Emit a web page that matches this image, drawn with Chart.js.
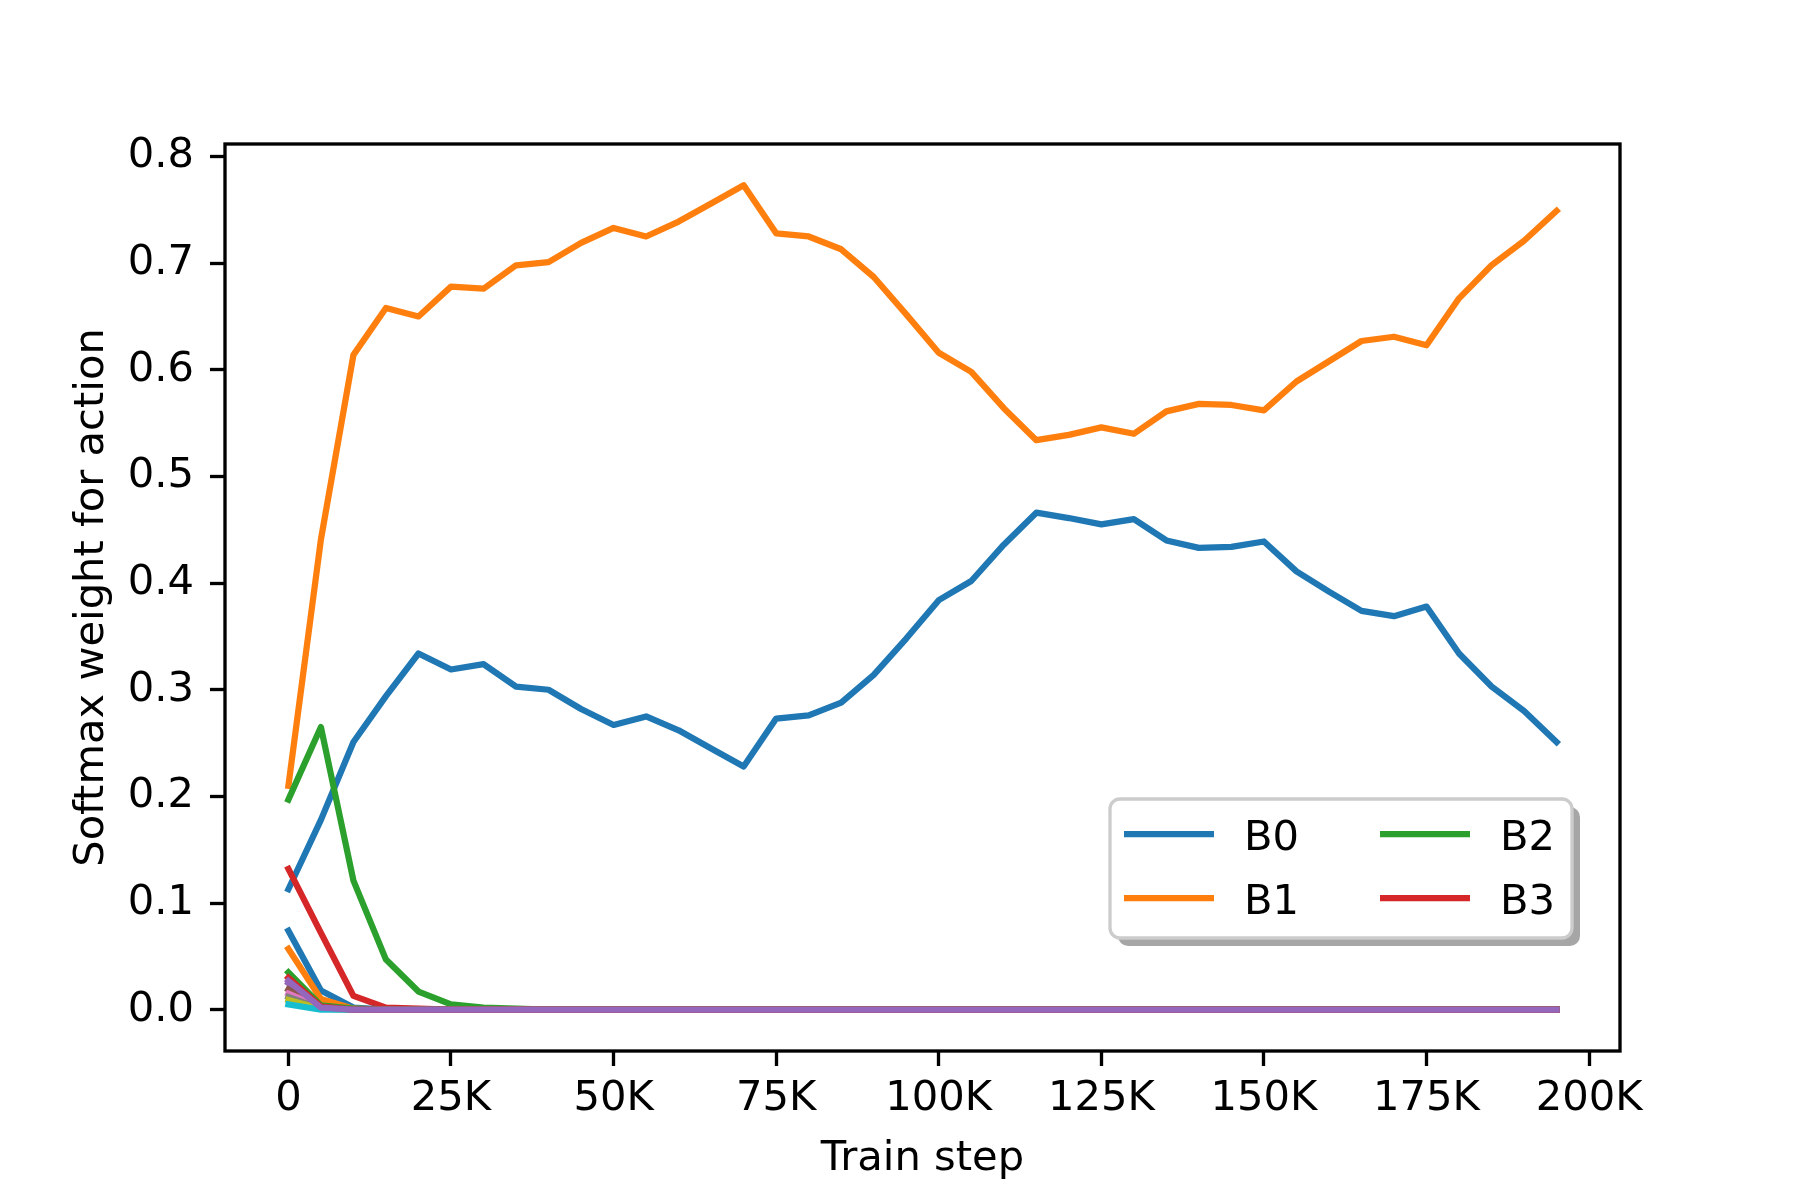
<!DOCTYPE html>
<html>
<head>
<meta charset="utf-8">
<script src="https://cdn.jsdelivr.net/npm/chart.js@4.4.1/dist/chart.umd.min.js"></script>
<style>
  html, body { margin: 0; padding: 0; background: #ffffff; }
  #c { display: block; }
</style>
</head>
<body>
<canvas id="c" width="1800" height="1200" style="width:1800px;height:1200px"></canvas>
<script>
// ---------------- DATA ----------------
const steps = [0, 5000, 10000, 15000, 20000, 25000, 30000, 35000, 40000, 45000,
  50000, 55000, 60000, 65000, 70000, 75000, 80000, 85000, 90000, 95000,
  100000, 105000, 110000, 115000, 120000, 125000, 130000, 135000, 140000, 145000,
  150000, 155000, 160000, 165000, 170000, 175000, 180000, 185000, 190000, 195000];

const xTickValues = [0, 25000, 50000, 75000, 100000, 125000, 150000, 175000, 200000];
const xTickLabels = ['0', '25K', '50K', '75K', '100K', '125K', '150K', '175K', '200K'];
const yTickValues = [0, 0.1, 0.2, 0.3, 0.4, 0.5, 0.6, 0.7, 0.8];
const yTickLabels = ['0.0', '0.1', '0.2', '0.3', '0.4', '0.5', '0.6', '0.7', '0.8'];

const seriesNames = ['B0', 'B1', 'B2', 'B3', 'B4', 'B5', 'B6', 'B7', 'B8', 'B9', 'B10', 'B11', 'B12', 'B13', 'B14'];
const legendCount = 4;

const B0 = [0.113, 0.178, 0.251, 0.294, 0.334, 0.319, 0.324, 0.303, 0.300, 0.282,
  0.267, 0.275, 0.262, 0.245, 0.228, 0.273, 0.276, 0.288, 0.314, 0.348,
  0.384, 0.402, 0.436, 0.466, 0.461, 0.455, 0.460, 0.440, 0.433, 0.434,
  0.439, 0.411, 0.392, 0.374, 0.369, 0.378, 0.334, 0.303, 0.280, 0.251];
const B1 = [0.210, 0.441, 0.614, 0.658, 0.650, 0.678, 0.676, 0.698, 0.701, 0.719,
  0.733, 0.725, 0.739, 0.756, 0.773, 0.728, 0.725, 0.713, 0.687, 0.652,
  0.616, 0.598, 0.564, 0.534, 0.539, 0.546, 0.540, 0.561, 0.568, 0.567,
  0.562, 0.589, 0.608, 0.627, 0.631, 0.623, 0.667, 0.698, 0.721, 0.749];
const B2 = [0.197, 0.265, 0.121, 0.047, 0.017, 0.005, 0.002, 0.001, 0, 0,
  0, 0, 0, 0, 0, 0, 0, 0, 0, 0,
  0, 0, 0, 0, 0, 0, 0, 0, 0, 0,
  0, 0, 0, 0, 0, 0, 0, 0, 0, 0];
const B3 = [0.132, 0.072, 0.013, 0.002, 0.001, 0, 0, 0, 0, 0,
  0, 0, 0, 0, 0, 0, 0, 0, 0, 0,
  0, 0, 0, 0, 0, 0, 0, 0, 0, 0,
  0, 0, 0, 0, 0, 0, 0, 0, 0, 0];
const B4 = [0.025, 0.003, 0.0005, 0, 0, 0, 0, 0, 0, 0,
  0, 0, 0, 0, 0, 0, 0, 0, 0, 0,
  0, 0, 0, 0, 0, 0, 0, 0, 0, 0,
  0, 0, 0, 0, 0, 0, 0, 0, 0, 0];
const B5 = [0.019, 0.002, 0, 0, 0, 0, 0, 0, 0, 0,
  0, 0, 0, 0, 0, 0, 0, 0, 0, 0,
  0, 0, 0, 0, 0, 0, 0, 0, 0, 0,
  0, 0, 0, 0, 0, 0, 0, 0, 0, 0];
const B6 = [0.015, 0.002, 0, 0, 0, 0, 0, 0, 0, 0,
  0, 0, 0, 0, 0, 0, 0, 0, 0, 0,
  0, 0, 0, 0, 0, 0, 0, 0, 0, 0,
  0, 0, 0, 0, 0, 0, 0, 0, 0, 0];
const B7 = [0.012, 0.001, 0, 0, 0, 0, 0, 0, 0, 0,
  0, 0, 0, 0, 0, 0, 0, 0, 0, 0,
  0, 0, 0, 0, 0, 0, 0, 0, 0, 0,
  0, 0, 0, 0, 0, 0, 0, 0, 0, 0];
const B8 = [0.009, 0.001, 0, 0, 0, 0, 0, 0, 0, 0,
  0, 0, 0, 0, 0, 0, 0, 0, 0, 0,
  0, 0, 0, 0, 0, 0, 0, 0, 0, 0,
  0, 0, 0, 0, 0, 0, 0, 0, 0, 0];
const B9 = [0.005, 0.0, 0, 0, 0, 0, 0, 0, 0, 0,
  0, 0, 0, 0, 0, 0, 0, 0, 0, 0,
  0, 0, 0, 0, 0, 0, 0, 0, 0, 0,
  0, 0, 0, 0, 0, 0, 0, 0, 0, 0];
const B10 = [0.074, 0.018, 0.002, 0, 0, 0, 0, 0, 0, 0,
  0, 0, 0, 0, 0, 0, 0, 0, 0, 0,
  0, 0, 0, 0, 0, 0, 0, 0, 0, 0,
  0, 0, 0, 0, 0, 0, 0, 0, 0, 0];
const B11 = [0.057, 0.010, 0.001, 0, 0, 0, 0, 0, 0, 0,
  0, 0, 0, 0, 0, 0, 0, 0, 0, 0,
  0, 0, 0, 0, 0, 0, 0, 0, 0, 0,
  0, 0, 0, 0, 0, 0, 0, 0, 0, 0];
const B12 = [0.035, 0.004, 0.001, 0, 0, 0, 0, 0, 0, 0,
  0, 0, 0, 0, 0, 0, 0, 0, 0, 0,
  0, 0, 0, 0, 0, 0, 0, 0, 0, 0,
  0, 0, 0, 0, 0, 0, 0, 0, 0, 0];
const B13 = [0.030, 0.003, 0, 0, 0, 0, 0, 0, 0, 0,
  0, 0, 0, 0, 0, 0, 0, 0, 0, 0,
  0, 0, 0, 0, 0, 0, 0, 0, 0, 0,
  0, 0, 0, 0, 0, 0, 0, 0, 0, 0];
const B14 = [0.027, 0.002, 0, 0, 0, 0, 0, 0, 0, 0,
  0, 0, 0, 0, 0, 0, 0, 0, 0, 0,
  0, 0, 0, 0, 0, 0, 0, 0, 0, 0,
  0, 0, 0, 0, 0, 0, 0, 0, 0, 0];

const seriesValues = [B0, B1, B2, B3, B4, B5, B6, B7, B8, B9, B10, B11, B12, B13, B14];

// ---------------- STYLE ----------------
const palette = ['#1f77b4', '#ff7f0e', '#2ca02c', '#d62728', '#9467bd',
                 '#8c564b', '#e377c2', '#7f7f7f', '#bcbd22', '#17becf'];

Chart.defaults.font.family = "'DejaVu Sans', sans-serif";
Chart.defaults.color = '#000000';

const FONT = 41.67;
const LW = 6.25;
const SPINE = 3.33;

const datasets = seriesValues.map((vals, i) => ({
  label: seriesNames[i],
  data: steps.map((s, j) => ({ x: s, y: vals[j] })),
  borderColor: palette[i % palette.length],
  backgroundColor: palette[i % palette.length],
  borderWidth: LW,
  pointRadius: 0,
  pointHoverRadius: 0,
  tension: 0,
  fill: false,
  borderCapStyle: 'square',
  borderJoinStyle: 'round',
  order: -i
}));

const framePlugin = {
  id: 'frame',
  afterDatasetsDraw(chart) {
    const { ctx, chartArea: a } = chart;
    ctx.save();
    ctx.strokeStyle = '#000000';
    ctx.lineWidth = SPINE;
    ctx.lineJoin = 'miter';
    ctx.strokeRect(a.left, a.top, a.right - a.left, a.bottom - a.top);
    ctx.restore();
  }
};

function roundRectPath(ctx, x, y, w, h, r) {
  ctx.beginPath();
  ctx.moveTo(x + r, y);
  ctx.lineTo(x + w - r, y);
  ctx.arcTo(x + w, y, x + w, y + r, r);
  ctx.lineTo(x + w, y + h - r);
  ctx.arcTo(x + w, y + h, x + w - r, y + h, r);
  ctx.lineTo(x + r, y + h);
  ctx.arcTo(x, y + h, x, y + h - r, r);
  ctx.lineTo(x, y + r);
  ctx.arcTo(x, y, x + r, y, r);
  ctx.closePath();
}

const legendPlugin = {
  id: 'mplLegend',
  afterDatasetsDraw(chart) {
    const { ctx, chartArea: a } = chart;
    const w = 462, h = 139;
    const x = a.right - 48 - w;
    const y = a.bottom - 113 - h;
    ctx.save();
    // shadow
    ctx.fillStyle = 'rgba(77,77,77,0.5)';
    roundRectPath(ctx, x + 8, y + 8, w, h, 10);
    ctx.fill();
    // box
    ctx.fillStyle = '#ffffff';
    roundRectPath(ctx, x, y, w, h, 10);
    ctx.fill();
    ctx.strokeStyle = '#cccccc';
    ctx.lineWidth = SPINE;
    ctx.stroke();
    // entries
    ctx.font = FONT + "px 'DejaVu Sans'";
    ctx.textBaseline = 'alphabetic';
    ctx.textAlign = 'left';
    for (let i = 0; i < legendCount; i++) {
      const col = Math.floor(i / 2), row = i % 2;
      const hx = x + 14 + col * 256;
      const hy = y + 35 + row * 64;
      ctx.strokeStyle = palette[i % palette.length];
      ctx.lineWidth = LW;
      ctx.lineCap = 'butt';
      ctx.beginPath();
      ctx.moveTo(hx, hy);
      ctx.lineTo(hx + 90, hy);
      ctx.stroke();
      ctx.fillStyle = '#000000';
      ctx.fillText(seriesNames[i], hx + 120, hy + 16);
    }
    ctx.restore();
  }
};

new Chart(document.getElementById('c'), {
  type: 'line',
  data: { datasets },
  options: {
    responsive: false,
    devicePixelRatio: 1,
    animation: false,
    events: [],
    layout: { padding: { left: 0, top: 144, right: 180, bottom: 0 } },
    plugins: {
      legend: { display: false },
      tooltip: { enabled: false },
      title: { display: false }
    },
    scales: {
      x: {
        type: 'linear',
        min: -9750,
        max: 204750,
        afterBuildTicks(scale) { scale.ticks = xTickValues.map(v => ({ value: v })); },
        afterFit(scale) { scale.height = 149; },
        ticks: {
          autoSkip: false,
          maxRotation: 0,
          padding: 8,
          font: { size: FONT },
          color: '#000000',
          callback(v) { const k = xTickValues.indexOf(v); return k >= 0 ? xTickLabels[k] : ''; }
        },
        grid: {
          display: true,
          drawOnChartArea: false,
          drawTicks: true,
          tickLength: 15,
          tickWidth: SPINE,
          tickColor: '#000000'
        },
        border: { display: false },
        title: {
          display: true,
          text: 'Train step',
          font: { size: FONT },
          color: '#000000',
          padding: { top: 0, bottom: 16 }
        }
      },
      y: {
        type: 'linear',
        min: -0.0387,
        max: 0.8117,
        afterBuildTicks(scale) { scale.ticks = yTickValues.map(v => ({ value: v })); },
        afterFit(scale) { scale.width = 225; },
        ticks: {
          autoSkip: false,
          padding: 16,
          font: { size: FONT },
          color: '#000000',
          callback(v) {
            const k = yTickValues.findIndex(t => Math.abs(t - v) < 1e-9);
            return k >= 0 ? yTickLabels[k] : '';
          }
        },
        grid: {
          display: true,
          drawOnChartArea: false,
          drawTicks: true,
          tickLength: 15,
          tickWidth: SPINE,
          tickColor: '#000000'
        },
        border: { display: false },
        title: {
          display: true,
          text: 'Softmax weight for action',
          font: { size: FONT },
          color: '#000000',
          padding: { top: 67, bottom: 0 }
        }
      }
    }
  },
  plugins: [framePlugin, legendPlugin]
});
</script>
</body>
</html>
